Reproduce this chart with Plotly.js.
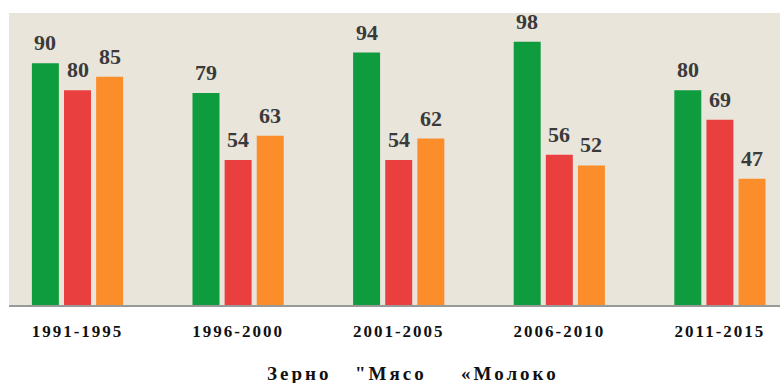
<!DOCTYPE html>
<html>
<head>
<meta charset="utf-8">
<script src="https://cdn.plot.ly/plotly-3.0.1.min.js"></script>
<style>
  html, body { margin: 0; padding: 0; background: #ffffff; }
  #chart { width: 781px; height: 383px; }
  .xtick text { letter-spacing: 2px; }
  [class*="legend"] text, text.legendtext, text.legendtext tspan { letter-spacing: 3px; }
  .legendpoints { display: none; }
</style>
</head>
<body>
<div id="chart"></div>
<script>
const categories = ["1991-1995", "1996-2000", "2001-2005", "2006-2010", "2011-2015"];
const seriesNames = ["Зерно", "\"Мясо", "«Молоко"];
const grain = [90, 79, 94, 98, 80];
const meat = [80, 54, 54, 56, 69];
const milk = [85, 63, 62, 52, 47];
const colors = ["#0e9c3e", "#e9403f", "#fb8e2b"];
const legendIds = ["legend", "legend2", "legend3"];
const legendX = [0.2827, 0.3969, 0.5344];

const seriesValues = [grain, meat, milk];
const traces = seriesValues.map((vals, j) => ({
  type: "bar",
  name: seriesNames[j],
  legend: legendIds[j],
  x: categories,
  y: vals,
  marker: { color: colors[j], line: { width: 0 } },
  hoverinfo: "x+y"
}));

const annotations = [];
seriesValues.forEach((vals, j) => {
  vals.forEach((v, i) => {
    annotations.push({
      xref: "x", yref: "y",
      x: i + (j - 1) * 0.2,
      y: v,
      text: String(v),
      showarrow: false,
      yanchor: "bottom",
      xanchor: "center",
      yshift: 6,
      font: { family: "Liberation Serif, serif", size: 22, color: "#3a3a3a", weight: "bold" }
    });
  });
});

const legendFont = { family: "Liberation Serif, serif", size: 19, color: "#111111", weight: "bold" };

const layout = {
  width: 781, height: 383,
  margin: { l: 9, r: 1, t: 13, b: 78 },
  paper_bgcolor: "#ffffff",
  plot_bgcolor: "#e9e5da",
  barmode: "group",
  bargap: 0.4,
  bargroupgap: 0.16,
  showlegend: true,
  xaxis: {
    type: "category",
    range: [-0.4265, 4.374],
    showgrid: false,
    zeroline: false,
    showline: true,
    linecolor: "#999999",
    linewidth: 2,
    ticks: "",
    ticklabelstandoff: 10,
    tickfont: { family: "Liberation Serif, serif", size: 17, color: "#111111", weight: "bold" },
    fixedrange: true
  },
  yaxis: {
    range: [0, 108.75],
    showgrid: false,
    zeroline: false,
    showline: false,
    showticklabels: false,
    ticks: "",
    fixedrange: true
  },
  annotations: annotations
};
legendIds.forEach((id, j) => {
  layout[id] = {
    orientation: "h",
    xref: "paper", yref: "container",
    x: legendX[j], xanchor: "left",
    y: 0.0757, yanchor: "top",
    entrywidth: 110, entrywidthmode: "pixels",
    bgcolor: "rgba(0,0,0,0)",
    font: legendFont
  };
});

Plotly.newPlot("chart", traces, layout, { displayModeBar: false, staticPlot: true }).then(() => {
  document.querySelectorAll("text.legendtext").forEach(el => {
    el.style.letterSpacing = "3px";
  });
});
</script>
</body>
</html>
